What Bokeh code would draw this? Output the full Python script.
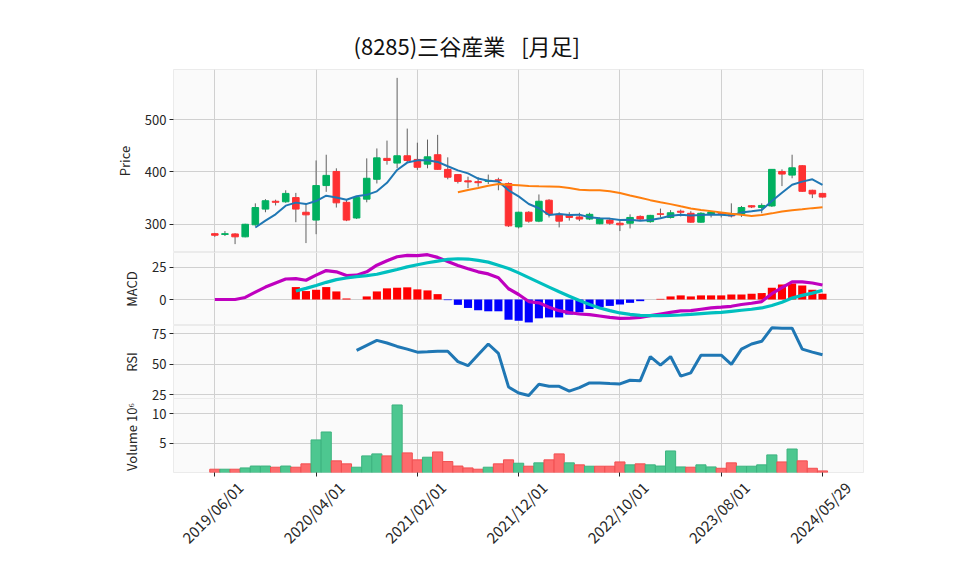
import pandas as pd
from bokeh.plotting import figure
from bokeh.layouts import column
from bokeh.models import ColumnDataSource, FixedTicker, Range1d, Grid, LinearAxis
from bokeh.embed import file_html
from bokeh.resources import INLINE

FONT = "Noto Sans CJK JP"
NaN = float("nan")
TITLE = "(8285)三谷産業\u2002 [月足]"

# ---------------- data ----------------
dates = [d.strftime("%Y/%m/%d") for d in pd.date_range("2019-06-01", "2024-05-01", freq="MS")] + ["2024/05/29"]

opens = [282, 280.5, 281.5, 276, 299, 329, 344, 343, 351, 323,
         308, 374, 401, 342, 312, 348, 386, 426, 417, 431,
         424, 415, 433, 405, 395, 383, 381.5, 382, 385, 378,
         295, 323, 306, 346, 319, 317, 314, 310, 301, 308,
         302, 302, 315, 305, 320, 313, 325, 321, 304, 319,
         320, 319, 319, 335.5, 332, 335, 401, 394, 412, 365,
         359]
highs = [283.5, 287, 283, 301, 340, 348, 347, 365, 360, 340,
         422, 433, 407, 346, 353, 426, 445, 460, 580, 483,
         456, 462, 471, 428, 396, 391, 390, 395, 389, 380,
         324, 325, 357, 348, 323, 323, 322, 322, 313, 311,
         309, 319, 317, 318, 330, 327, 328, 325, 323, 324,
         323, 340, 335, 336.5, 340, 405, 405, 433, 413, 366,
         360]
lows = [276, 277.5, 262, 275, 297, 323, 336, 341, 304, 264,
        281, 362, 332, 306, 310, 342, 378, 414, 407, 418,
        404, 407, 404, 386, 378, 369, 372, 377, 365, 295,
        292, 303, 304, 313, 294, 307, 306, 308, 300, 299,
        287, 292, 308, 303, 313, 311, 315, 303, 303, 313,
        313, 313, 314, 331, 321, 333, 373, 388, 362, 350,
        351]
closes = [279, 282, 276, 300, 332, 345, 342, 359, 329, 318,
          374, 393.5, 341, 308, 351, 388, 427, 422, 431, 422,
          409, 429, 405, 390, 382, 381, 379.5, 384, 383.5, 297,
          323, 306, 344, 319, 306, 313, 310, 319, 310, 302,
          299, 313, 310, 317, 319, 322, 323, 304, 321, 323.5,
          319, 316, 332, 333, 336, 405, 396, 408, 363, 358,
          352]
volumes = [560000, 560000, 560000, 780000, 1100000, 1100000, 900000, 1100000, 900000, 1470000,
           5550000, 6900000, 1980000, 1470000, 900000, 2830000, 3170000, 2830000, 11500000, 3340000,
           2150000, 2600000, 3500000, 1860000, 1100000, 780000, 560000, 900000, 1470000, 2150000,
           1580000, 1070000, 1640000, 2150000, 3170000, 1640000, 1300000, 1070000, 1070000, 1070000,
           1800000, 1300000, 1470000, 1300000, 1100000, 3670000, 950000, 900000, 1300000, 950000,
           720000, 1640000, 1070000, 1070000, 1300000, 3000000, 1800000, 4000000, 1980000, 720000,
           270000]
macd = [0, 0, 0, 1.6, 5.8, 9.7, 12.9, 16, 16.3, 15,
        19, 22.6, 21.6, 18.7, 19, 21.6, 26.8, 30.3, 33.4, 34.5,
        34.2, 35, 32.9, 29.7, 26.6, 24, 21.6, 20, 17, 8.4,
        3.9, -1.6, -2.6, -6, -8.7, -10.3, -11.3, -11.8, -12.9, -14,
        -14.7, -14.5, -14, -12.6, -11.3, -10, -8.9, -8.7, -7.6, -6.6,
        -6, -5.3, -3.9, -2.9, -1.6, 4.5, 9.2, 13.7, 13.7, 12.9,
        11.3]
signal = [NaN, NaN, NaN, NaN, NaN, NaN, NaN, NaN, 6.6, 8.7,
          11, 13.4, 15.5, 16.8, 17.9, 18.7, 19.7, 21.6, 23.4, 25.5,
          27.1, 28.7, 30, 31.3, 31.8, 31.6, 30.5, 29.2, 26.8, 24.2,
          20.8, 17.1, 13.4, 9.7, 6, 2.6, -0.8, -3.9, -6.6, -8.7,
          -10.5, -11.6, -12.4, -12.6, -12.6, -12.4, -12.1, -11.6, -11, -10.5,
          -10, -9.2, -8.4, -7.6, -6.6, -4.7, -2.1, 1.1, 3.2, 5,
          7.1]
hist = [NaN, NaN, NaN, NaN, NaN, NaN, NaN, NaN, 9.7, 6.6,
        7.6, 9.7, 6.3, 0.8, 0, 2.4, 6.3, 8.7, 9.2, 9.5,
        7.9, 7.1, 4.2, -0.5, -4.2, -6.6, -8.4, -9.2, -9.2, -15.8,
        -16.6, -17.9, -14.7, -14, -14, -11.8, -10, -7.4, -6, -5,
        -3.9, -2.6, -1.3, 0, 0.5, 2.4, 3.2, 2.4, 3.2, 3.2,
        3.2, 3.9, 3.9, 4.5, 5, 9.2, 11.8, 12.4, 11, 7.6,
        4.5]
rsi = [NaN] * 14 + [61.4, 65.6, 69.7, 67.5, 64.7, 62.5,
                    60, 60.3, 60.8, 60.8, 52.2, 48.9, 57.8, 66.7, 59, 31.4,
                    26.4, 24.4, 33.6, 31.9, 31.9, 28, 30.8, 34.7, 34.7, 34.2,
                    33.9, 36.9, 36.4, 56.4, 49.4, 56.4, 40.3, 43, 57.5, 57.5,
                    57.5, 50, 62.5, 66.7, 68.9, 80, 79.7, 79.7, 62.5, 60,
                    57.8]

# ---------------- derived ----------------
n = len(dates)
idx = list(range(n))
s_close = pd.Series(closes)
ma5 = s_close.rolling(5).mean().tolist()
ma25 = s_close.rolling(25).mean().tolist()
cand_up = [c >= o for o, c in zip(opens, closes)]
vol_up = [closes[0] >= opens[0]] + [closes[i] >= closes[i - 1] for i in range(1, n)]

candles = ColumnDataSource(dict(
    x=idx, high=highs, low=lows,
    top=[max(o, c) for o, c in zip(opens, closes)],
    bottom=[min(o, c) for o, c in zip(opens, closes)],
    color=["#00b060" if u else "#fe3032" for u in cand_up],
))
vol_src = ColumnDataSource(dict(
    x=idx, v=[v / 1e6 for v in volumes],
    fill=["#4dc790" if u else "#fd6b6c" for u in vol_up],
    edge=["#3cb37f" if u else "#f24f51" for u in vol_up],
))
hist_src = ColumnDataSource(dict(
    x=idx, h=hist, color=["#ff0000" if (h == h and h >= 0) else "#0000ff" for h in hist],
))

tick_pos = idx[::10]
tick_labels = {i: dates[i] for i in tick_pos}

X0, X1 = -4.08, 64.05
x_range = Range1d(X0, X1)
LABEL_SHIFT = 2.5   # rotated date labels are centred under their ticks
GRID = "#d0d0d0"
TXT = "#262626"


def make_fig(frame_height, yr, yticks, ylabel, top=0, bottom=0, xaxis=False):
    p = figure(x_range=x_range, y_range=Range1d(*yr), frame_width=690, frame_height=frame_height,
               min_border_left=173, min_border_right=60, min_border_top=top, min_border_bottom=bottom,
               x_axis_location="below" if xaxis else None, output_backend="svg",
               toolbar_location=None, background_fill_color="#fafafa",
               border_fill_color=None, outline_line_color="#ebebeb")
    p.yaxis.ticker = FixedTicker(ticks=yticks)
    p.yaxis.axis_label = ylabel
    p.yaxis.axis_label_text_font = FONT
    p.yaxis.axis_label_text_font_size = "13px"
    p.yaxis.axis_label_text_font_style = "normal"
    p.yaxis.axis_label_text_color = TXT
    p.yaxis.axis_label_standoff = 8
    p.yaxis.major_label_text_font = FONT
    p.yaxis.major_label_text_font_size = "13px"
    p.yaxis.major_label_text_color = TXT
    p.yaxis.major_label_standoff = 3
    p.yaxis.axis_line_color = None
    p.yaxis.major_tick_out = 4
    p.yaxis.major_tick_in = 0
    p.yaxis.major_tick_line_color = TXT
    p.yaxis.minor_tick_line_color = None
    p.ygrid.grid_line_color = GRID
    if len(p.xgrid) > 0:
        for g in p.xgrid:
            g.ticker = FixedTicker(ticks=tick_pos)
            g.grid_line_color = GRID
    else:
        p.add_layout(Grid(dimension=0, ticker=FixedTicker(ticks=tick_pos), grid_line_color=GRID))
    if xaxis:
        ax = p.xaxis[0]
        ax.ticker = FixedTicker(ticks=tick_pos)
        ax.major_label_overrides = {i: "" for i in tick_pos}
        ax.major_label_text_font_size = "1px"
        ax.major_label_standoff = 0
        ax.axis_line_color = None
        ax.major_tick_out = 4
        ax.major_tick_in = 0
        ax.major_tick_line_color = TXT
        ax.minor_tick_line_color = None
        # labels on a shifted copy of the index scale, so each label is centred on its tick
        p.extra_x_ranges = {"lab": Range1d(X0 - LABEL_SHIFT, X1 - LABEL_SHIFT)}
        lab = LinearAxis(x_range_name="lab", ticker=FixedTicker(ticks=tick_pos),
                         major_label_overrides=tick_labels, major_label_orientation=0.785398,
                         major_label_text_font=FONT, major_label_text_font_size="15px",
                         major_label_text_color=TXT, major_label_standoff=2,
                         axis_line_color=None, major_tick_line_color=None,
                         minor_tick_line_color=None)
        p.add_layout(lab, "below")
    return p


# price
p1 = make_fig(183, (246, 596), [300, 400, 500], "Price", top=69)
p1.title.text = TITLE
p1.title.text_font = FONT
p1.title.text_font_size = "22px"
p1.title.text_font_style = "normal"
p1.title.text_color = "#111111"
p1.title.align = "left"
p1.title.offset = 180
p1.title.standoff = 18
p1.segment(x0="x", y0="low", x1="x", y1="high", source=candles, line_color="#606060", line_width=1)
p1.vbar(x="x", width=0.65, top="top", bottom="bottom", source=candles,
        fill_color="color", line_color="color", line_width=1)
p1.line(idx, ma5, line_color="#1f77b4", line_width=2)
p1.line(idx, ma25, line_color="#ff7f0e", line_width=2)

# macd
p2 = make_fig(73, (-20.3, 36.7), [0, 25], "MACD")
p2.vbar(x="x", width=0.8, top="h", bottom=0, source=hist_src, fill_color="color", line_color=None)
p2.line(idx, macd, line_color="#bf00bf", line_width=3.2)
p2.line(idx, signal, line_color="#00bfbf", line_width=3.2)

# rsi (extra room below so its lowest tick label is not clipped)
p3 = make_fig(73, (21.9, 81.9), [25, 50, 75], "RSI", bottom=9)
p3.line(idx, rsi, line_color="#1f77b4", line_width=3)

# volume
p4 = make_fig(74, (0, 12.6), [5, 10], "Volume  10⁶", bottom=88, xaxis=True)
p4.margin = (-9, 0, 0, 0)
p4.vbar(x="x", width=1.0, top="v", bottom=0, source=vol_src,
        fill_color="fill", line_color="edge", line_width=1)

layout = column(p1, p2, p3, p4, spacing=0)
open("out.html", "w").write(file_html(layout, INLINE))
